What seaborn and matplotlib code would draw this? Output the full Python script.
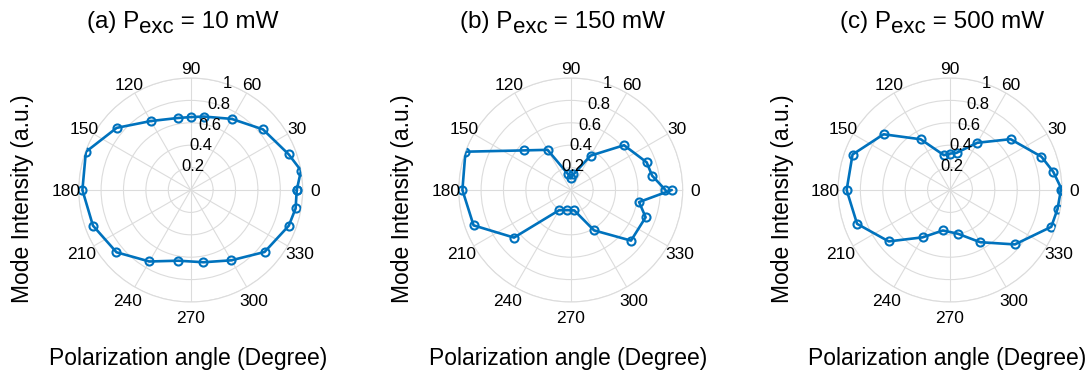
import numpy as np
import pandas as pd
import matplotlib
matplotlib.use("Agg")
import matplotlib.pyplot as plt
import seaborn as sns

# ---- data ----
angles_deg = [0, 10, 20, 40, 60, 80, 90, 100, 120, 140, 160, 180,
              200, 220, 240, 260, 280, 300, 320, 340, 350, 360]

intensity_10mW = [0.947, 1.00, 0.931, 0.842, 0.733, 0.666, 0.651, 0.653, 0.711, 0.863, 0.996, 0.967,
                  0.929, 0.865, 0.737, 0.641, 0.655, 0.725, 0.861, 0.932, 0.951, 0.947]
intensity_150mW = [0.846, 0.738, 0.722, 0.622, 0.354, 0.141, 0.104, 0.146, 0.414, 0.550, 1.00, 0.967,
                   0.923, 0.661, 0.209, 0.182, 0.185, 0.416, 0.703, 0.712, 0.620, 0.902]
intensity_500mW = [1.00, 0.936, 0.869, 0.706, 0.487, 0.337, 0.325, 0.316, 0.523, 0.774, 0.926, 0.923,
                   0.883, 0.714, 0.488, 0.367, 0.396, 0.538, 0.756, 0.962, 0.975, 0.990]

panel_tags = ["(a)", "(b)", "(c)"]
powers = ["10 mW", "150 mW", "500 mW"]
series = [intensity_10mW, intensity_150mW, intensity_500mW]

theta_ticks = list(range(0, 360, 30))
r_ticks = [0.2, 0.4, 0.6, 0.8, 1.0]
r_ticklabels = ["0.2", "0.4", "0.6", "0.8", "1"]
xlabel_text = "Polarization angle (Degree)"
ylabel_text = "Mode Intensity (a.u.)"

# ---- style ----
sns.set_theme(style="white")
plt.rcParams['font.family'] = ['Liberation Sans', 'DejaVu Sans']
plt.rcParams['text.color'] = 'black'

W, H = 1090, 379
fig = plt.figure(figsize=(W / 100, H / 100), dpi=100)
fig.patch.set_facecolor("white")

line_color = "#0072BD"
grid_color = "#dcdcdc"
centers = [(190.7, 190), (570.7, 190), (950, 190)]
R = 112
rlabel_angle = np.deg2rad(67)

fig.canvas.draw()
renderer = fig.canvas.get_renderer()


def text_width(s, size):
    t = fig.text(0, 0, s, fontsize=size)
    w = t.get_window_extent(renderer).width
    t.remove()
    return w


for (cx, cy), vals, tag, pw in zip(centers, series, panel_tags, powers):
    ax = fig.add_axes([(cx - R) / W, (H - cy - R) / H, 2 * R / W, 2 * R / H],
                      projection="polar")
    df = pd.DataFrame({"theta": np.deg2rad(angles_deg), "r": vals})
    sns.lineplot(data=df, x="theta", y="r", ax=ax, sort=False, color=line_color,
                 linewidth=1.9, marker="o", markersize=5.8,
                 markerfacecolor="none", markeredgecolor=line_color,
                 markeredgewidth=1.5, zorder=3)
    ax.set_ylim(0, 1)
    ax.set_yticks(r_ticks)
    ax.set_yticklabels([])
    for rv, lab in zip(r_ticks, r_ticklabels):
        ax.annotate(lab, xy=(rlabel_angle, rv), xycoords="data",
                    xytext=(-7, 3), textcoords="offset pixels",
                    ha="center", va="center", fontsize=12, color="black",
                    zorder=4, annotation_clip=False)
    ax.set_xticks(np.deg2rad(theta_ticks))
    ax.set_xticklabels([])
    for t in theta_ticks:
        th = np.deg2rad(t)
        dist = 124.5 - 2.5 * np.sin(th) - R
        ax.annotate(str(t), xy=(th, 1.0), xycoords="data",
                    xytext=(dist * np.cos(th), dist * np.sin(th)),
                    textcoords="offset pixels", ha="center",
                    va="center_baseline", fontsize=12.5, color="black",
                    annotation_clip=False)
    ax.grid(True, color=grid_color, linewidth=0.8)
    ax.spines["polar"].set_color(grid_color)
    ax.spines["polar"].set_linewidth(0.8)
    ax.set_xlabel("")
    ax.set_ylabel("")
    ax.set_facecolor("white")

    # title built from pieces so the subscript keeps a large size
    main_size, sub_size = 17.5, 16
    p1 = f"{tag} P"
    p2 = "exc"
    p3 = f" = {pw}"
    w1, w2, w3 = text_width(p1, main_size), text_width(p2, sub_size), text_width(p3, main_size)
    total = w1 + w2 + w3
    x0 = cx - 8 - total / 2
    base = H - 28
    fig.text(x0 / W, base / H, p1, fontsize=main_size, ha="left", va="baseline")
    fig.text((x0 + w1) / W, (base - 5) / H, p2, fontsize=sub_size, ha="left", va="baseline")
    fig.text((x0 + w1 + w2) / W, base / H, p3, fontsize=main_size, ha="left", va="baseline")

    fig.text((cx - 168) / W, 1 - 199 / H, ylabel_text, ha="center", va="center",
             rotation=90, fontsize=16.5)
    fig.text((cx - 3) / W, 1 - 358 / H, xlabel_text, ha="center", va="center",
             fontsize=16.5)

fig.savefig("out.png", dpi=100, facecolor="white")
